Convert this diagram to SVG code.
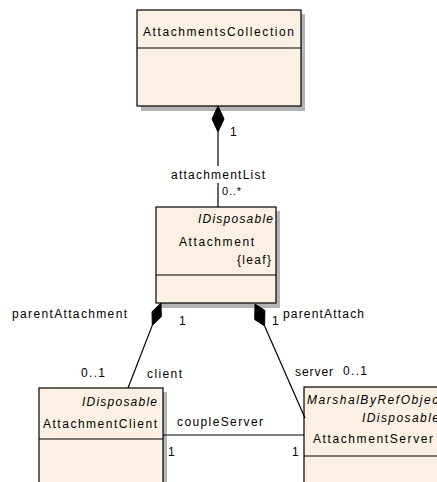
<svg xmlns="http://www.w3.org/2000/svg" width="437" height="482" viewBox="0 0 437 482">
<style>
text{font-family:"Liberation Sans",Arial,sans-serif;font-size:12px;fill:#000}
.it{font-style:italic}
.box{fill:#FBF0E3;stroke:#000;stroke-width:1.2}
.sh{fill:#B4B4B4}
.ln{stroke:#000;stroke-width:1.2;fill:none}
.dia{fill:#000;stroke:#000;stroke-width:1}
</style>
<rect width="437" height="482" fill="#fff"/>
<g id="AttachmentsCollection">
<rect class="sh" x="141" y="14" width="164" height="97"/>
<rect class="box" x="137" y="10" width="164" height="96"/>
<line class="ln" x1="137" y1="48" x2="301" y2="48"/>
<text x="143" y="36" textLength="151">AttachmentsCollection</text>
</g>
<g id="Attachment">
<rect class="sh" x="160" y="211" width="120" height="97"/>
<rect class="box" x="156" y="207" width="120" height="96"/>
<line class="ln" x1="156" y1="275" x2="276" y2="275"/>
<text class="it" x="198" y="223" textLength="75">IDisposable</text>
<text x="179" y="246" textLength="75">Attachment</text>
<text x="237" y="264" textLength="34">{leaf}</text>
</g>
<g id="AttachmentClient">
<rect class="sh" x="43" y="392" width="124" height="100"/>
<rect class="box" x="39" y="388" width="124" height="100"/>
<line class="ln" x1="39" y1="439" x2="163" y2="439"/>
<text class="it" x="82" y="406" textLength="75">IDisposable</text>
<text x="43" y="428" textLength="114">AttachmentClient</text>
</g>
<g id="AttachmentServer">
<rect class="sh" x="308" y="391" width="140" height="100"/>
<rect class="box" x="304" y="387" width="140" height="100"/>
<line class="ln" x1="304" y1="456" x2="444" y2="456"/>
<text class="it" x="307" y="404" textLength="136">MarshalByRefObject</text>
<text class="it" x="362" y="422" textLength="77">IDisposable</text>
<text x="313" y="443" textLength="120">AttachmentServer</text>
</g>
<g id="connectors">
<polygon class="dia" points="218,106 224,119 218,132 212,119"/>
<line class="ln" x1="218" y1="132" x2="218" y2="166"/>
<line class="ln" x1="218" y1="183" x2="218" y2="207"/>
<text x="230" y="136">1</text>
<text x="171" y="179" textLength="94">attachmentList</text>
<text x="222" y="195" textLength="19" style="font-size:11px">0..*</text>

<polygon class="dia" points="161,303 161.3,316.7 152.3,325.4 152,311.7"/>
<line class="ln" x1="152.3" y1="325.4" x2="128" y2="388"/>
<text x="12" y="318" textLength="115">parentAttachment</text>
<text x="179" y="325">1</text>
<text x="81" y="377" textLength="24">0..1</text>
<text x="147" y="378" textLength="35">client</text>

<polygon class="dia" points="255,304 264.9,310.5 264.6,326 254.7,319.5"/>
<line class="ln" x1="264.6" y1="326" x2="305" y2="418"/>
<text x="272" y="325">1</text>
<text x="283" y="318" textLength="81">parentAttach</text>
<text x="295" y="376" textLength="38">server</text>
<text x="343" y="375" textLength="24">0..1</text>

<line class="ln" x1="163" y1="435" x2="304" y2="435"/>
<text x="177" y="426" textLength="86">coupleServer</text>
<text x="168" y="456">1</text>
<text x="292" y="456">1</text>
</g>
</svg>
